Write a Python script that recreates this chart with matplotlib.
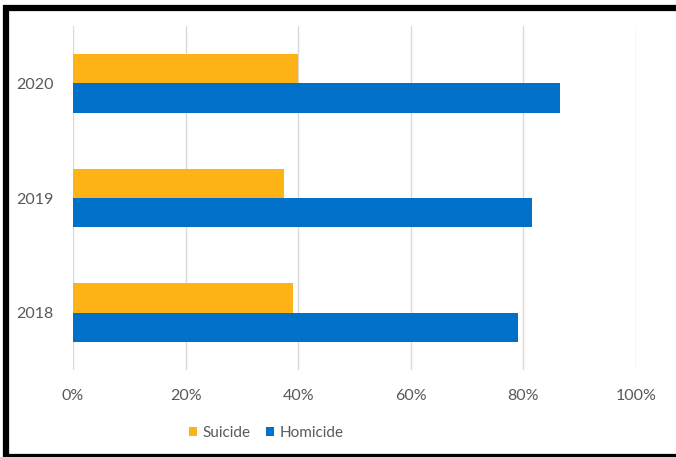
import matplotlib.pyplot as plt
from matplotlib.patches import Rectangle
import numpy as np

# data
years = ['2018', '2019', '2020']
suicide = [0.39, 0.375, 0.40]
homicide = [0.79, 0.815, 0.865]
x_ticks = [0, 0.2, 0.4, 0.6, 0.8, 1.0]
x_labels = ['0%', '20%', '40%', '60%', '80%', '100%']

plt.rcParams['font.family'] = ['Lato', 'DejaVu Sans']
txt = '#595959'

fig = plt.figure(figsize=(6.76, 4.57), dpi=100)
ax = fig.add_axes([73/676, 1-370/457, (636-73)/676, (370-26)/457])

y = np.arange(len(years))
h = 0.255
ax.barh(y + h/2, suicide, height=h, color='#FDB316', label='Suicide', zorder=3)
ax.barh(y - h/2, homicide, height=h, color='#0070C9', label='Homicide', zorder=3)

ax.set_xlim(0, 1.0)
ax.set_ylim(-0.5, 2.5)
ax.set_xticks(x_ticks)
ax.set_xticklabels(x_labels)
ax.set_yticks(y)
ax.set_yticklabels(years)
ax.tick_params(axis='both', length=0, labelsize=11.5, labelcolor=txt)
ax.tick_params(axis='x', pad=14)
ax.tick_params(axis='y', pad=14)
ax.grid(axis='x', color='#D9D9D9', linewidth=1, zorder=0)
for s in ax.spines.values():
    s.set_visible(False)

ax.legend(loc='center', bbox_to_anchor=(266/676, 1-433/457), bbox_transform=fig.transFigure,
          ncol=2, frameon=False, fontsize=11, labelcolor=txt,
          handlelength=0.55, handleheight=0.55, handletextpad=0.35, columnspacing=1.0)

# black frame around the picture
fig.patches.append(Rectangle((6/676, 0), 1, 1 - 8/457, transform=fig.transFigure,
                             fill=False, edgecolor='black', linewidth=4.5, zorder=10))

fig.savefig('out.png', dpi=100)
